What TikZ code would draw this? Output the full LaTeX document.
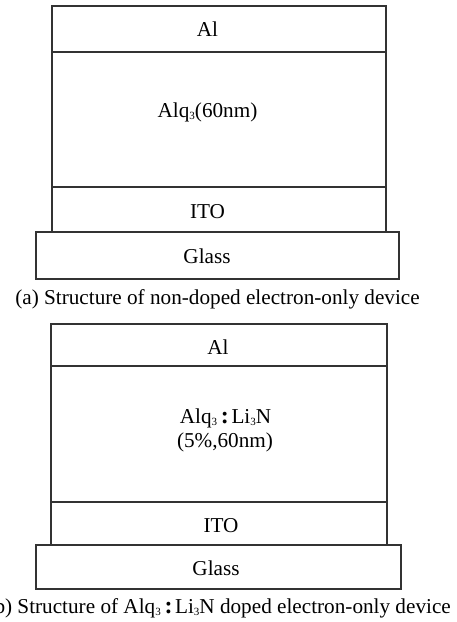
\documentclass[tikz,border=0pt]{standalone}
\usepackage{fontspec}
\setmainfont{Liberation Serif}
\newcommand{\fwcolon}{\hspace{0.18em}{\fontsize{24}{24}\selectfont\bfseries :}\hspace{0.12em}}
\newcommand{\lsub}[1]{\raisebox{-0.28ex}{\fontsize{11}{11}\selectfont #1}}
\begin{document}
\begin{tikzpicture}[x=1pt,y=-1pt,
  layer/.style={draw=black!80,line width=1.2pt},
  lbl/.style={anchor=base,inner sep=0pt,font=\fontsize{21.2}{25}\selectfont}]
\useasboundingbox (0,0) rectangle (457,622);
\clip (0,0) rectangle (457,622);
% (a)
\draw[layer] (52,6) rectangle (386,52);
\draw[layer] (52,52) rectangle (386,187);
\draw[layer] (52,187) rectangle (386,232);
\draw[layer] (36,232) rectangle (399,279);
\node[lbl] (aal) at (207.5,36) {Al};
\node[lbl] (aalq) at (207.5,117) {Alq\lsub{3}(60nm)};
\node[lbl] (aito) at (207.5,218) {ITO};
\node[lbl] (agl) at (207,263) {Glass};
\node[lbl] (acap) at (217.5,304) {(a) Structure of non-doped electron-only device};
% (b)
\draw[layer] (51,324) rectangle (387,366);
\draw[layer] (51,366) rectangle (387,502);
\draw[layer] (51,502) rectangle (387,545);
\draw[layer] (36,545) rectangle (401,589);
\node[lbl] (bal) at (218,354) {Al};
\node[lbl] (balq) at (225.5,423) {Alq\lsub{3}\fwcolon Li\lsub{3}N};
\node[lbl] (bpct) at (225,447) {(5\%,60nm)};
\node[lbl] (bito) at (221,532) {ITO};
\node[lbl] (bgl) at (216,575) {Glass};
\node[lbl,anchor=base east] (bcap) at (451,613) {(b) Structure of Alq\lsub{3}\fwcolon Li\lsub{3}N doped electron-only device};
\end{tikzpicture}
\end{document}
